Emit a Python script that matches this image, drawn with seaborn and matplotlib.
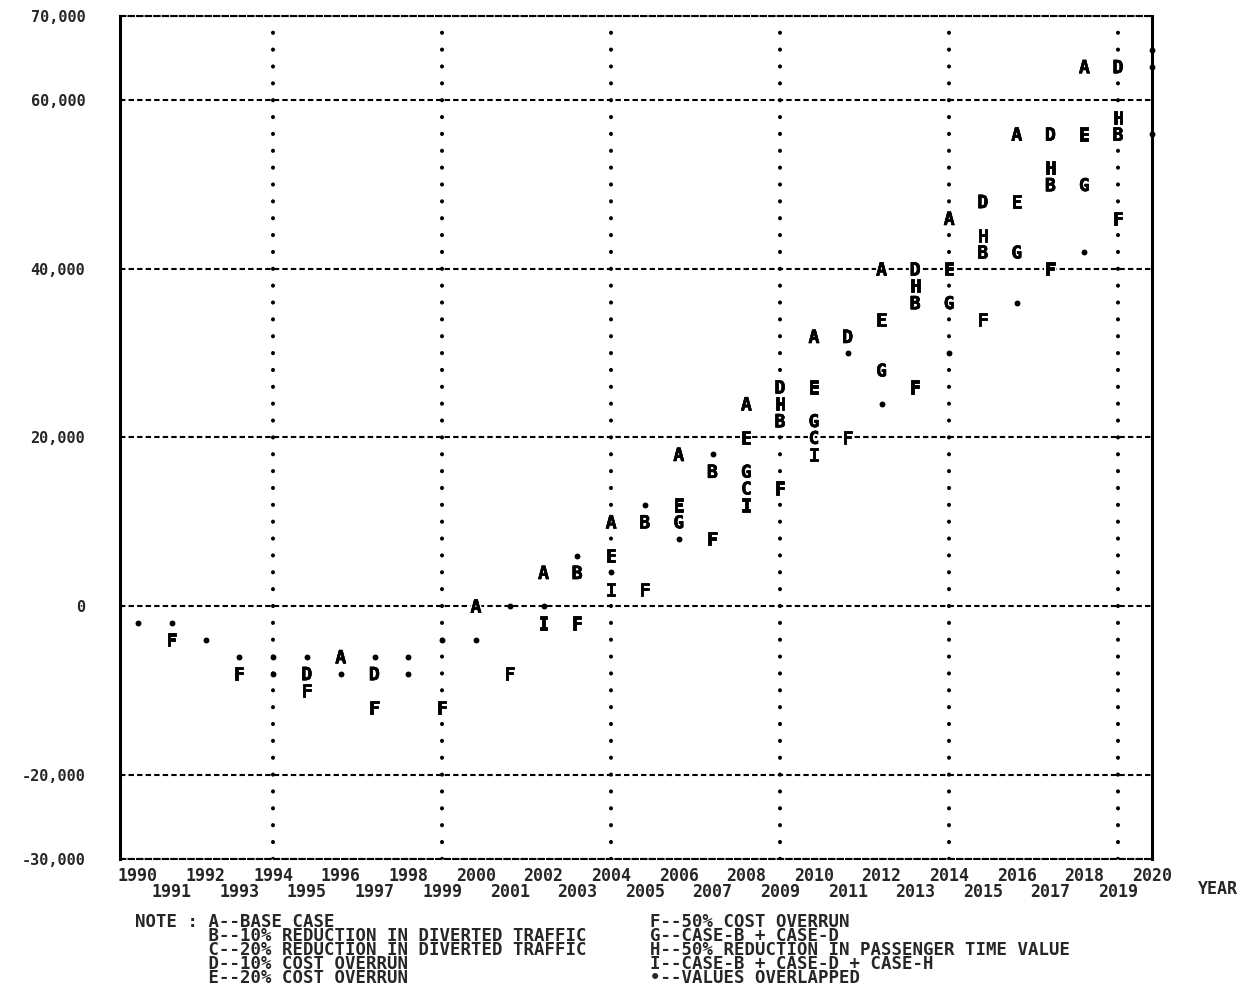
import matplotlib
matplotlib.use("Agg")
import matplotlib.pyplot as plt
import matplotlib.patheffects as pe
import numpy as np
import pandas as pd
import seaborn as sns

# ---------------- data ----------------
years_A = [1996, 2000, 2002, 2004, 2006, 2008, 2010, 2012, 2014, 2016, 2018]
vals_A = [-6000, 0, 4000, 10000, 18000, 24000, 32000, 40000, 46000, 56000, 64000]

years_B = [2003, 2005, 2007, 2009, 2013, 2015, 2017, 2019]
vals_B = [4000, 10000, 16000, 22000, 36000, 42000, 50000, 56000]

years_C = [2008, 2010]
vals_C = [14000, 20000]

years_D = [1995, 1997, 2009, 2011, 2013, 2015, 2017, 2019]
vals_D = [-8000, -8000, 26000, 32000, 40000, 48000, 56000, 64000]

years_E = [2004, 2006, 2008, 2010, 2012, 2014, 2016, 2018]
vals_E = [6000, 12000, 20000, 26000, 34000, 40000, 48000, 56000]

years_F = [1991, 1993, 1995, 1997, 1999, 2001, 2003, 2005, 2007, 2009, 2011,
           2013, 2015, 2017, 2019]
vals_F = [-4000, -8000, -10000, -12000, -12000, -8000, -2000, 2000, 8000,
          14000, 20000, 26000, 34000, 40000, 46000]

years_G = [2006, 2008, 2010, 2012, 2014, 2016, 2018]
vals_G = [10000, 16000, 22000, 28000, 36000, 42000, 50000]

years_H = [2009, 2013, 2015, 2017, 2019]
vals_H = [24000, 38000, 44000, 52000, 58000]

years_I = [2002, 2004, 2008, 2010]
vals_I = [-2000, 2000, 12000, 18000]

# "*" = values overlapped
years_star = [1990, 1991, 1992, 1993, 1994, 1994, 1995, 1996, 1997, 1998, 1998,
              1999, 2000, 2001, 2002, 2003, 2004, 2005, 2006, 2007, 2011, 2012,
              2014, 2016, 2018, 2020, 2020, 2020]
vals_star = [-2000, -2000, -4000, -6000, -6000, -8000, -6000, -8000, -6000,
             -6000, -8000, -4000, -4000, 0, 0, 6000, 4000, 12000, 8000, 18000,
             30000, 24000, 30000, 36000, 42000, 66000, 64000, 56000]

cases = ["A", "B", "C", "D", "E", "F", "G", "H", "I"]

even_years = list(range(1990, 2021, 2))
odd_years = list(range(1991, 2020, 2))
grid_years = [1994, 1999, 2004, 2009, 2014, 2019]
ytick_values = [-30000, -20000, 0, 20000, 40000, 60000, 70000]
ytick_labels = ["-30,000", "-20,000", "0", "20,000", "40,000", "60,000", "70,000"]

legend_left = ["A--BASE CASE",
               "B--10% REDUCTION IN DIVERTED TRAFFIC",
               "C--20% REDUCTION IN DIVERTED TRAFFIC",
               "D--10% COST OVERRUN",
               "E--20% COST OVERRUN"]
legend_right = ["F--50% COST OVERRUN",
                "G--CASE-B + CASE-D",
                "H--50% REDUCTION IN PASSENGER TIME VALUE",
                "I--CASE-B + CASE-D + CASE-H",
                "•--VALUES OVERLAPPED"]

# ---------------- style ----------------
sns.set_style("white")
plt.rcParams["font.family"] = ["DejaVu Sans Mono", "DejaVu Sans"]
plt.rcParams["font.weight"] = "bold"
plt.rcParams["mathtext.fontset"] = "custom"
plt.rcParams["mathtext.bf"] = "DejaVu Sans Mono:bold"
plt.rcParams["mathtext.rm"] = "DejaVu Sans Mono:bold"

W, H = 1244, 1008
fig = plt.figure(figsize=(W / 100, H / 100), dpi=100)
ax_l, ax_r, ax_t, ax_b = 120, 1152, 16, 859
ax = fig.add_axes([ax_l / W, 1 - ax_b / H, (ax_r - ax_l) / W, (ax_b - ax_t) / H])

# ---------------- data frame ----------------
series = {"A": (years_A, vals_A), "B": (years_B, vals_B), "C": (years_C, vals_C),
          "D": (years_D, vals_D), "E": (years_E, vals_E), "F": (years_F, vals_F),
          "G": (years_G, vals_G), "H": (years_H, vals_H), "I": (years_I, vals_I)}
rows = []
for c in cases:
    ys, vs = series[c]
    for y, v in zip(ys, vs):
        rows.append((c, y, v))
df = pd.DataFrame(rows, columns=["case", "year", "value"])
markers = {c: r"$\mathbf{" + c + r"}$" for c in cases}

sns.scatterplot(data=df, x="year", y="value", style="case", markers=markers,
                s=90, color="black", edgecolor="black", linewidth=0.4,
                legend=False, ax=ax, clip_on=False, zorder=5)
ax.collections[-1].set_path_effects([pe.withStroke(linewidth=3, foreground="white"),
                                     pe.Normal()])
sns.scatterplot(x=years_star, y=vals_star, marker="o", s=18, color="black",
                linewidth=0, ax=ax, clip_on=False, zorder=5)

# ---------------- axes ----------------
ax.set_xlim(1989.47, 2020.0)
ax.set_ylim(-30000, 70000)
ax.set_xlabel("")
ax.set_ylabel("")

ax.set_xticks(even_years)
ax.set_xticklabels([str(y) for y in even_years], fontsize=12, fontweight="bold")
ax.set_xticks(odd_years, minor=True)
ax.set_xticklabels([str(y) for y in odd_years], minor=True, fontsize=12,
                   fontweight="bold")
ax.tick_params(axis="x", which="major", direction="inout", length=7, width=1.4,
               pad=2, color="black")
ax.tick_params(axis="x", which="minor", direction="inout", length=7, width=1.4,
               pad=13.5, color="black")

ax.set_yticks(ytick_values)
ax.set_yticklabels(ytick_labels, fontsize=11, fontweight="bold")
ax.tick_params(axis="y", length=0, pad=25)

# grid: dashed horizontals, dotted verticals (one dot per print row)
ax.grid(axis="y", which="major", color="black", linewidth=1.5,
        linestyle=(0, (2.6, 1.5)))
ax.grid(axis="x", which="both", visible=False)
ax_h_pt = (ax_b - ax_t) * 0.72
period = ax_h_pt / 50.0
dot_lw = 2.9
for gy in grid_years:
    ax.axvline(gy, color="black", linewidth=dot_lw, zorder=1.5,
               linestyle=(0, (0.05, period / dot_lw - 0.05)),
               dash_capstyle="round")

for side in ["left", "right"]:
    ax.spines[side].set_linewidth(2.2)
    ax.spines[side].set_color("black")
for side in ["top", "bottom"]:
    ax.spines[side].set_linewidth(1.5)
    ax.spines[side].set_linestyle((0, (2.6, 1.5)))
    ax.spines[side].set_color("black")

# ---------------- labels / note ----------------
fig.text(1218 / W, 1 - 889 / H, "YEAR", ha="center", va="center",
         fontsize=12, fontweight="bold")

note_left = "\n".join([("NOTE : " if i == 0 else "       ") + t
                       for i, t in enumerate(legend_left)])
note_right = "\n".join(legend_right)
fig.text(135 / W, 1 - 913 / H, note_left, ha="left", va="top", fontsize=12.5,
         fontweight="bold", linespacing=0.72)
fig.text(650 / W, 1 - 913 / H, note_right, ha="left", va="top", fontsize=12.5,
         fontweight="bold", linespacing=0.72)

fig.savefig("out.png", dpi=100, facecolor="white")
